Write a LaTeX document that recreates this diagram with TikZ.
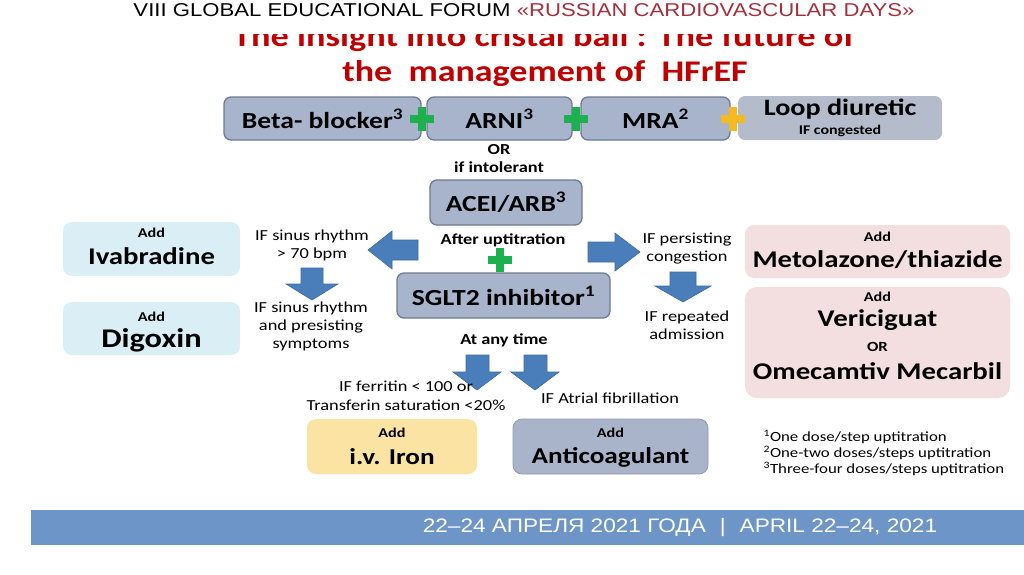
\documentclass[tikz,border=0pt]{standalone}
\usepackage{fontspec}
\setmainfont[FakeStretch=1.2]{Carlito}
\newfontfamily\hdrfont[FakeStretch=1.19]{Liberation Sans}
\newfontfamily\datefont[FakeStretch=1.16]{Liberation Sans}
\definecolor{hdrred}{HTML}{A5303C}
\definecolor{ttlred}{HTML}{C00000}
\definecolor{boxfill}{HTML}{A8B4CC}
\definecolor{boxedge}{HTML}{6E7B90}
\definecolor{loopfill}{HTML}{B4BCCB}
\definecolor{ivafill}{HTML}{DAEEF6}
\definecolor{pinkfill}{HTML}{F3DEE0}
\definecolor{ironfill}{HTML}{FBE4A3}
\definecolor{anticfill}{HTML}{A9B4CB}
\definecolor{arrowblue}{HTML}{4A7EBB}
\definecolor{arrowedge}{HTML}{3D6BA3}
\definecolor{plusgreen}{HTML}{1DB04E}
\definecolor{plusyellow}{HTML}{F5BA22}
\definecolor{barblue}{HTML}{6E95C8}
\newcommand{\fsz}[2]{\fontsize{#1}{#2}\selectfont}
\tikzset{
  drugbox/.style={rounded corners=7pt, draw=boxedge, fill=boxfill, line width=1.3pt, inner sep=0pt},
  softbox/.style={rounded corners=9pt, inner sep=0pt},
  blockarrow/.style={fill=arrowblue, draw=arrowedge, line width=0.6pt, line join=miter},
  plusbar/.style={line width=8pt},
  big/.style={font=\bfseries\fsz{23}{26}},
  addlbl/.style={font=\bfseries\fsz{13.5}{15}},
  cond/.style={font=\fsz{15.3}{18}, align=center},
  foot/.style={font=\fsz{14}{15}, anchor=west}
}
\begin{document}
\begin{tikzpicture}[x=1pt,y=-1pt]
\useasboundingbox (0,0) rectangle (1024,574);
\fill[white] (0,0) rectangle (1024,574);

% header
\node[inner sep=0pt] (hdr) at (524,10) {\hdrfont\fsz{18.6}{20}VIII GLOBAL EDUCATIONAL FORUM {\color{hdrred}«RUSSIAN CARDIOVASCULAR DAYS»}};
\begin{scope}
\clip (0,34) rectangle (1024,60);
\node[text=ttlred, font=\bfseries\fsz{30.3}{32}, anchor=base, inner sep=0pt] (t1) at (544,46.3) {The insight into cristal ball : The future of};
\end{scope}
\node[text=ttlred, font=\bfseries\fsz{30}{32}, anchor=base, inner sep=0pt] (t2) at (545,81.3) {the\ \ management of\ \ HFrEF};

% top row
\node[softbox, rounded corners=7pt, fill=loopfill, minimum width=204pt, minimum height=44pt] (loop) at (840,118) {};
\node[font=\bfseries\fsz{23.5}{25}] (loopt) at (840,109.5) {Loop diuretic};
\node[font=\bfseries\fsz{13.3}{15}] (loops) at (840,130.5) {IF congested};
\node[drugbox, minimum width=197pt, minimum height=43pt] (bb) at (322.5,118.5) {};
\node[big] (bbt) at (bb) {Beta- blocker\textsuperscript{3}};
\node[drugbox, minimum width=145pt, minimum height=43pt] (arni) at (499.5,118.5) {};
\node[big] (arnit) at (arni) {ARNI\textsuperscript{3}};
\node[drugbox, minimum width=149pt, minimum height=43pt] (mra) at (655.5,118.5) {};
\node[big] (mrat) at (mra) {MRA\textsuperscript{2}};

% plus signs
\draw[plusbar, plusgreen] (410,119) -- (434,119) (422,107) -- (422,131);
\draw[plusbar, plusgreen] (564,119) -- (588,119) (576,107) -- (576,131);
\draw[plusbar, plusyellow] (721,119) -- (745,119) (733,107) -- (733,131);
\draw[plusbar, plusgreen] (488,260) -- (512,260) (500,248) -- (500,272);

\node[font=\bfseries\fsz{15.3}{17}] (or1) at (499,150) {OR};
\node[font=\bfseries\fsz{15.3}{17}] (intol) at (499,167) {if intolerant};

\node[drugbox, minimum width=152pt, minimum height=45pt] (acei) at (506,202.5) {};
\node[big] (aceit) at (acei) {ACEI/ARB\textsuperscript{3}};
\node[font=\bfseries\fsz{15.3}{17}] (after) at (503,240) {After uptitration};

\node[drugbox, minimum width=213pt, minimum height=45pt] (sglt) at (503.5,295.5) {};
\node[big] (sglt2) at (sglt) {SGLT2 inhibitor\textsuperscript{1}};

% block arrows
\draw[blockarrow] (418,240) -- (392,240) -- (392,231) -- (368,250) -- (392,269) -- (392,260) -- (418,260) -- cycle;
\draw[blockarrow] (301,268) -- (323,268) -- (323,284) -- (338,284) -- (312,300) -- (286,284) -- (301,284) -- cycle;
\draw[blockarrow] (588,242) -- (615,242) -- (615,233) -- (640,252) -- (615,271) -- (615,262) -- (588,262) -- cycle;
\draw[blockarrow] (670,272) -- (696,272) -- (696,286) -- (711,286) -- (683,302) -- (655,286) -- (670,286) -- cycle;
\draw[blockarrow] (466,355) -- (489,355) -- (489,372) -- (501,372) -- (477,390) -- (453,372) -- (466,372) -- cycle;
\draw[blockarrow] (524,355) -- (547,355) -- (547,372) -- (559,372) -- (535,390) -- (511,372) -- (524,372) -- cycle;

% condition texts
\node[cond] (c1) at (312,245) {IF sinus rhythm\\> 70 bpm};
\node[cond] (c2) at (311,326) {IF sinus rhythm\\and presisting\\symptoms};
\node[cond] (c3) at (687,249) {IF persisting\\congestion};
\node[cond] (c4) at (687,325) {IF repeated\\admission};
\node[font=\bfseries\fsz{15.3}{17}] (anytime) at (504,340) {At any time};
\node[cond, font=\fsz{15.3}{19}] (c5) at (406,396) {IF ferritin < 100 or\\Transferin saturation <20\%};
\node[cond] (c6) at (610,398) {IF Atrial fibrillation};

% left boxes
\node[softbox, fill=ivafill, minimum width=177pt, minimum height=54pt] (iva) at (151.5,249) {};
\node[addlbl] (ivaa) at (151.5,233) {Add};
\node[font=\bfseries\fsz{24}{26}] (ivat) at (151.5,256) {Ivabradine};
\node[softbox, fill=ivafill, minimum width=177pt, minimum height=53pt] (dig) at (151.5,328.5) {};
\node[addlbl] (diga) at (151.5,317) {Add};
\node[font=\bfseries\fsz{27}{29}] (digt) at (151.5,340) {Digoxin};

% right boxes
\node[softbox, fill=pinkfill, minimum width=265pt, minimum height=53pt] (met) at (877.5,251.5) {};
\node[addlbl] (meta) at (877.5,237) {Add};
\node[font=\bfseries\fsz{24}{26}] (mett) at (877.5,260) {Metolazone/thiazide};
\node[softbox, rounded corners=12pt, fill=pinkfill, minimum width=265pt, minimum height=111pt] (ver) at (877.5,342.5) {};
\node[addlbl] (vera) at (877.5,297) {Add};
\node[font=\bfseries\fsz{24}{26}] (vert) at (877.5,320) {Vericiguat};
\node[font=\bfseries\fsz{14}{16}] (veror) at (877.5,347) {OR};
\node[font=\bfseries\fsz{24}{26}] (omec) at (877.5,371) {Omecamtiv Mecarbil};

% bottom boxes
\node[softbox, fill=ironfill, minimum width=170pt, minimum height=55pt] (iron) at (392,446.5) {};
\node[addlbl] (irona) at (392,433) {Add};
\node[font=\bfseries\fsz{22.7}{25}] (iront) at (392,457) {i.v. Iron};
\node[softbox, fill=anticfill, draw=anticfill!85!black, line width=0.8pt, minimum width=195pt, minimum height=55pt] (antic) at (610.5,446.5) {};
\node[addlbl] (antica) at (610.5,433) {Add};
\node[font=\bfseries\fsz{22.7}{25}] (antict) at (610.5,457) {Anticoagulant};

% footnotes
\node[foot] (f1) at (760,437) {\textsuperscript{1}One dose/step uptitration};
\node[foot] (f2) at (760,453) {\textsuperscript{2}One-two doses/steps uptitration};
\node[foot] (f3) at (760,469) {\textsuperscript{3}Three-four doses/steps uptitration};

% bottom bar
\fill[barblue] (31,510) rectangle (1024,545);
\node[text=white, inner sep=0pt] (date) at (680,527) {\datefont\fsz{19.5}{21}22–24 АПРЕЛЯ 2021 ГОДА\hspace{14pt}|\hspace{14pt}APRIL 22–24, 2021};
\end{tikzpicture}
\end{document}
